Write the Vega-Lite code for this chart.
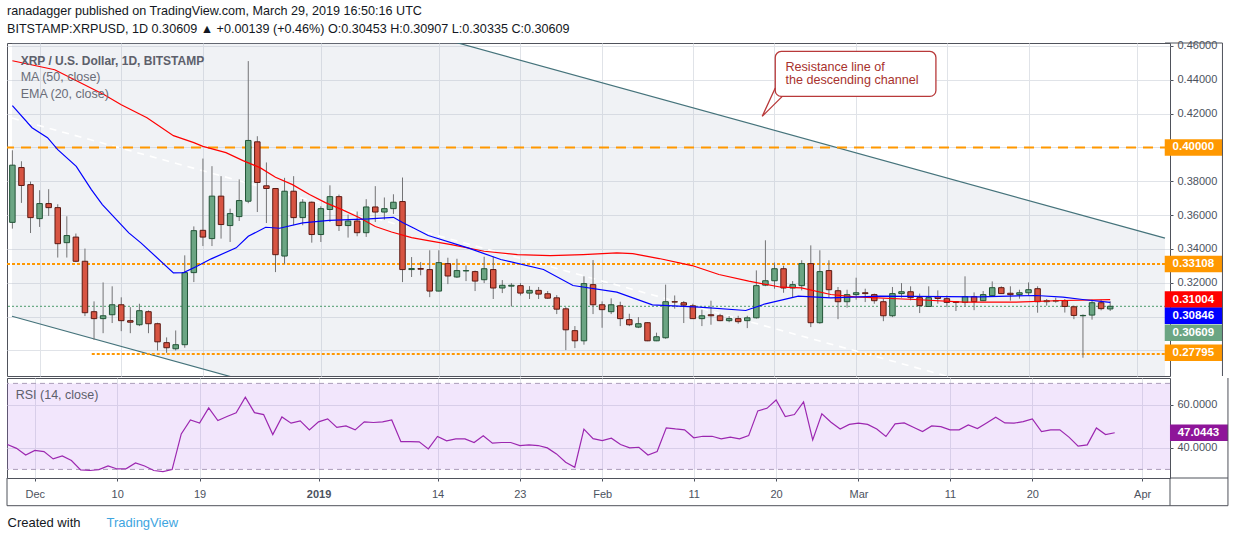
{
  "$schema": "https://vega.github.io/schema/vega-lite/v6.json",
  "background": "#ffffff",
  "padding": {"left": 4, "top": 5, "right": 0, "bottom": 0},
  "spacing": 0,
  "title": {
    "text": "ranadagger published on TradingView.com, March 29, 2019 16:50:16 UTC",
    "subtitle": "BITSTAMP:XRPUSD, 1D 0.30609 ▲ +0.00139 (+0.46%) O:0.30453 H:0.30907 L:0.30335 C:0.30609",
    "anchor": "start",
    "frame": "group",
    "offset": 4,
    "font": "Liberation Sans",
    "fontSize": 12.6,
    "fontWeight": "normal",
    "color": "#131722",
    "subtitleFont": "Liberation Sans",
    "subtitleFontSize": 12.6,
    "subtitleFontWeight": "normal",
    "subtitleColor": "#131722",
    "subtitlePadding": 5
  },
  "datasets": {
    "bars": [
      {"date": "2018-11-28", "o": 0.3557, "h": 0.3983, "l": 0.352, "c": 0.3895, "rsi": 41.6},
      {"date": "2018-11-29", "o": 0.3881, "h": 0.3918, "l": 0.3672, "c": 0.3775, "rsi": 39.8},
      {"date": "2018-11-30", "o": 0.378, "h": 0.3798, "l": 0.3494, "c": 0.3585, "rsi": 36.7},
      {"date": "2018-12-01", "o": 0.3579, "h": 0.3747, "l": 0.353, "c": 0.3668, "rsi": 38.8},
      {"date": "2018-12-02", "o": 0.3668, "h": 0.3753, "l": 0.3595, "c": 0.3644, "rsi": 38.3},
      {"date": "2018-12-03", "o": 0.3644, "h": 0.3664, "l": 0.3349, "c": 0.3431, "rsi": 34.9},
      {"date": "2018-12-04", "o": 0.3437, "h": 0.3593, "l": 0.3349, "c": 0.3479, "rsi": 36.3},
      {"date": "2018-12-05", "o": 0.347, "h": 0.3491, "l": 0.3322, "c": 0.3327, "rsi": 34.1},
      {"date": "2018-12-06", "o": 0.3327, "h": 0.3402, "l": 0.3003, "c": 0.3023, "rsi": 29.8},
      {"date": "2018-12-07", "o": 0.3029, "h": 0.309, "l": 0.2863, "c": 0.2988, "rsi": 29.5},
      {"date": "2018-12-08", "o": 0.2988, "h": 0.3202, "l": 0.2902, "c": 0.3005, "rsi": 29.9},
      {"date": "2018-12-09", "o": 0.3011, "h": 0.3179, "l": 0.2962, "c": 0.307, "rsi": 31.6},
      {"date": "2018-12-10", "o": 0.307, "h": 0.3114, "l": 0.2914, "c": 0.2976, "rsi": 30.2},
      {"date": "2018-12-11", "o": 0.2976, "h": 0.3056, "l": 0.2902, "c": 0.2967, "rsi": 30.4},
      {"date": "2018-12-12", "o": 0.2952, "h": 0.3076, "l": 0.2944, "c": 0.3035, "rsi": 33.0},
      {"date": "2018-12-13", "o": 0.3029, "h": 0.3037, "l": 0.2902, "c": 0.2958, "rsi": 31.6},
      {"date": "2018-12-14", "o": 0.2958, "h": 0.2964, "l": 0.28, "c": 0.2851, "rsi": 29.5},
      {"date": "2018-12-15", "o": 0.2846, "h": 0.2877, "l": 0.2786, "c": 0.2816, "rsi": 29.0},
      {"date": "2018-12-16", "o": 0.281, "h": 0.2918, "l": 0.28, "c": 0.2834, "rsi": 29.9},
      {"date": "2018-12-17", "o": 0.2834, "h": 0.3362, "l": 0.2816, "c": 0.326, "rsi": 46.5},
      {"date": "2018-12-18", "o": 0.326, "h": 0.3533, "l": 0.3204, "c": 0.3508, "rsi": 53.0},
      {"date": "2018-12-19", "o": 0.351, "h": 0.3934, "l": 0.3417, "c": 0.347, "rsi": 51.6},
      {"date": "2018-12-20", "o": 0.3461, "h": 0.3889, "l": 0.3417, "c": 0.3712, "rsi": 58.6},
      {"date": "2018-12-21", "o": 0.3712, "h": 0.383, "l": 0.3461, "c": 0.3544, "rsi": 52.7},
      {"date": "2018-12-22", "o": 0.3538, "h": 0.3638, "l": 0.3441, "c": 0.3609, "rsi": 54.6},
      {"date": "2018-12-23", "o": 0.3591, "h": 0.3811, "l": 0.3565, "c": 0.3686, "rsi": 56.3},
      {"date": "2018-12-24", "o": 0.3682, "h": 0.451, "l": 0.367, "c": 0.4041, "rsi": 63.6},
      {"date": "2018-12-25", "o": 0.4033, "h": 0.4066, "l": 0.3618, "c": 0.3793, "rsi": 56.4},
      {"date": "2018-12-26", "o": 0.3773, "h": 0.3911, "l": 0.3553, "c": 0.3757, "rsi": 55.5},
      {"date": "2018-12-27", "o": 0.3757, "h": 0.376, "l": 0.3263, "c": 0.3366, "rsi": 46.2},
      {"date": "2018-12-28", "o": 0.3358, "h": 0.382, "l": 0.3309, "c": 0.3741, "rsi": 54.4},
      {"date": "2018-12-29", "o": 0.3741, "h": 0.383, "l": 0.354, "c": 0.3585, "rsi": 51.5},
      {"date": "2018-12-30", "o": 0.3585, "h": 0.3694, "l": 0.354, "c": 0.3676, "rsi": 52.6},
      {"date": "2018-12-31", "o": 0.3676, "h": 0.368, "l": 0.3437, "c": 0.3485, "rsi": 48.4},
      {"date": "2019-01-01", "o": 0.3485, "h": 0.3652, "l": 0.3441, "c": 0.3638, "rsi": 52.1},
      {"date": "2019-01-02", "o": 0.3633, "h": 0.3776, "l": 0.3559, "c": 0.3709, "rsi": 53.5},
      {"date": "2019-01-03", "o": 0.3709, "h": 0.3721, "l": 0.3506, "c": 0.3538, "rsi": 49.5},
      {"date": "2019-01-04", "o": 0.3538, "h": 0.3603, "l": 0.3467, "c": 0.3565, "rsi": 50.2},
      {"date": "2019-01-05", "o": 0.3565, "h": 0.3621, "l": 0.3475, "c": 0.3496, "rsi": 48.4},
      {"date": "2019-01-06", "o": 0.3496, "h": 0.3694, "l": 0.3471, "c": 0.3648, "rsi": 52.1},
      {"date": "2019-01-07", "o": 0.3648, "h": 0.3771, "l": 0.3559, "c": 0.3618, "rsi": 51.8},
      {"date": "2019-01-08", "o": 0.3618, "h": 0.3704, "l": 0.3573, "c": 0.3638, "rsi": 52.1},
      {"date": "2019-01-09", "o": 0.3638, "h": 0.3723, "l": 0.3607, "c": 0.3676, "rsi": 53.0},
      {"date": "2019-01-10", "o": 0.368, "h": 0.3822, "l": 0.3204, "c": 0.3278, "rsi": 42.9},
      {"date": "2019-01-11", "o": 0.3278, "h": 0.3352, "l": 0.3234, "c": 0.3284, "rsi": 42.9},
      {"date": "2019-01-12", "o": 0.3284, "h": 0.3322, "l": 0.3244, "c": 0.328, "rsi": 42.8},
      {"date": "2019-01-13", "o": 0.3278, "h": 0.3392, "l": 0.3115, "c": 0.3151, "rsi": 39.5},
      {"date": "2019-01-14", "o": 0.3151, "h": 0.3392, "l": 0.3149, "c": 0.3319, "rsi": 45.3},
      {"date": "2019-01-15", "o": 0.3313, "h": 0.3348, "l": 0.3192, "c": 0.324, "rsi": 43.3},
      {"date": "2019-01-16", "o": 0.3234, "h": 0.3342, "l": 0.3228, "c": 0.3272, "rsi": 44.2},
      {"date": "2019-01-17", "o": 0.327, "h": 0.3303, "l": 0.321, "c": 0.3272, "rsi": 44.2},
      {"date": "2019-01-18", "o": 0.3266, "h": 0.3272, "l": 0.3151, "c": 0.321, "rsi": 42.5},
      {"date": "2019-01-19", "o": 0.3218, "h": 0.3354, "l": 0.3198, "c": 0.3283, "rsi": 45.6},
      {"date": "2019-01-20", "o": 0.3278, "h": 0.3354, "l": 0.3104, "c": 0.3169, "rsi": 42.2},
      {"date": "2019-01-21", "o": 0.3169, "h": 0.3216, "l": 0.3139, "c": 0.3185, "rsi": 42.5},
      {"date": "2019-01-22", "o": 0.318, "h": 0.3198, "l": 0.306, "c": 0.3185, "rsi": 42.5},
      {"date": "2019-01-23", "o": 0.3183, "h": 0.3198, "l": 0.3125, "c": 0.3139, "rsi": 41.1},
      {"date": "2019-01-24", "o": 0.3139, "h": 0.318, "l": 0.3104, "c": 0.3155, "rsi": 41.4},
      {"date": "2019-01-25", "o": 0.3155, "h": 0.3175, "l": 0.3104, "c": 0.3133, "rsi": 41.1},
      {"date": "2019-01-26", "o": 0.3135, "h": 0.3151, "l": 0.3105, "c": 0.3109, "rsi": 40.0},
      {"date": "2019-01-27", "o": 0.3111, "h": 0.3127, "l": 0.3015, "c": 0.3044, "rsi": 37.2},
      {"date": "2019-01-28", "o": 0.3046, "h": 0.3056, "l": 0.2802, "c": 0.2922, "rsi": 33.3},
      {"date": "2019-01-29", "o": 0.2917, "h": 0.2944, "l": 0.2814, "c": 0.2857, "rsi": 31.0},
      {"date": "2019-01-30", "o": 0.2857, "h": 0.3238, "l": 0.2834, "c": 0.3195, "rsi": 48.7},
      {"date": "2019-01-31", "o": 0.3189, "h": 0.3334, "l": 0.3015, "c": 0.307, "rsi": 44.3},
      {"date": "2019-02-01", "o": 0.307, "h": 0.309, "l": 0.2934, "c": 0.3041, "rsi": 43.4},
      {"date": "2019-02-02", "o": 0.3029, "h": 0.3108, "l": 0.3015, "c": 0.307, "rsi": 44.5},
      {"date": "2019-02-03", "o": 0.3064, "h": 0.3088, "l": 0.2944, "c": 0.2988, "rsi": 41.6},
      {"date": "2019-02-04", "o": 0.2982, "h": 0.3017, "l": 0.2944, "c": 0.2952, "rsi": 40.0},
      {"date": "2019-02-05", "o": 0.2938, "h": 0.2997, "l": 0.2932, "c": 0.2958, "rsi": 40.3},
      {"date": "2019-02-06", "o": 0.2964, "h": 0.2967, "l": 0.2855, "c": 0.2857, "rsi": 36.7},
      {"date": "2019-02-07", "o": 0.2857, "h": 0.2905, "l": 0.2855, "c": 0.2881, "rsi": 38.3},
      {"date": "2019-02-08", "o": 0.2875, "h": 0.3189, "l": 0.2869, "c": 0.3088, "rsi": 49.3},
      {"date": "2019-02-09", "o": 0.3088, "h": 0.3125, "l": 0.3047, "c": 0.3086, "rsi": 48.8},
      {"date": "2019-02-10", "o": 0.3082, "h": 0.3092, "l": 0.2962, "c": 0.3068, "rsi": 48.4},
      {"date": "2019-02-11", "o": 0.3064, "h": 0.3076, "l": 0.2986, "c": 0.2988, "rsi": 44.7},
      {"date": "2019-02-12", "o": 0.2988, "h": 0.3041, "l": 0.2944, "c": 0.3005, "rsi": 45.4},
      {"date": "2019-02-13", "o": 0.3011, "h": 0.3094, "l": 0.2952, "c": 0.3005, "rsi": 45.4},
      {"date": "2019-02-14", "o": 0.3005, "h": 0.3017, "l": 0.2973, "c": 0.2976, "rsi": 44.2},
      {"date": "2019-02-15", "o": 0.2976, "h": 0.3003, "l": 0.2967, "c": 0.2988, "rsi": 45.0},
      {"date": "2019-02-16", "o": 0.2988, "h": 0.3005, "l": 0.2958, "c": 0.297, "rsi": 44.2},
      {"date": "2019-02-17", "o": 0.2976, "h": 0.3005, "l": 0.2932, "c": 0.2993, "rsi": 45.7},
      {"date": "2019-02-18", "o": 0.2993, "h": 0.3273, "l": 0.2988, "c": 0.3183, "rsi": 57.2},
      {"date": "2019-02-19", "o": 0.3186, "h": 0.3451, "l": 0.318, "c": 0.3212, "rsi": 58.4},
      {"date": "2019-02-20", "o": 0.3212, "h": 0.3319, "l": 0.3165, "c": 0.3283, "rsi": 62.3},
      {"date": "2019-02-21", "o": 0.3283, "h": 0.3301, "l": 0.3141, "c": 0.3169, "rsi": 54.6},
      {"date": "2019-02-22", "o": 0.3169, "h": 0.321, "l": 0.3115, "c": 0.3189, "rsi": 55.5},
      {"date": "2019-02-23", "o": 0.3183, "h": 0.3333, "l": 0.3155, "c": 0.3313, "rsi": 61.4},
      {"date": "2019-02-24", "o": 0.3313, "h": 0.3421, "l": 0.2938, "c": 0.2964, "rsi": 43.7},
      {"date": "2019-02-25", "o": 0.2964, "h": 0.3392, "l": 0.2958, "c": 0.3266, "rsi": 55.8},
      {"date": "2019-02-26", "o": 0.3272, "h": 0.3333, "l": 0.3112, "c": 0.3159, "rsi": 51.9},
      {"date": "2019-02-27", "o": 0.3153, "h": 0.3175, "l": 0.2985, "c": 0.3088, "rsi": 48.8},
      {"date": "2019-02-28", "o": 0.3088, "h": 0.3159, "l": 0.3053, "c": 0.313, "rsi": 50.9},
      {"date": "2019-03-01", "o": 0.313, "h": 0.323, "l": 0.31, "c": 0.3141, "rsi": 51.5},
      {"date": "2019-03-02", "o": 0.3141, "h": 0.3165, "l": 0.3086, "c": 0.3136, "rsi": 50.9},
      {"date": "2019-03-03", "o": 0.313, "h": 0.3136, "l": 0.3076, "c": 0.3094, "rsi": 48.8},
      {"date": "2019-03-04", "o": 0.3088, "h": 0.3106, "l": 0.2973, "c": 0.3005, "rsi": 45.3},
      {"date": "2019-03-05", "o": 0.3005, "h": 0.3175, "l": 0.2997, "c": 0.3136, "rsi": 51.2},
      {"date": "2019-03-06", "o": 0.3136, "h": 0.3198, "l": 0.3112, "c": 0.3147, "rsi": 51.6},
      {"date": "2019-03-07", "o": 0.3147, "h": 0.3179, "l": 0.3096, "c": 0.3112, "rsi": 49.6},
      {"date": "2019-03-08", "o": 0.3112, "h": 0.3136, "l": 0.3021, "c": 0.3065, "rsi": 47.6},
      {"date": "2019-03-09", "o": 0.306, "h": 0.3179, "l": 0.3058, "c": 0.3112, "rsi": 50.2},
      {"date": "2019-03-10", "o": 0.3118, "h": 0.3155, "l": 0.3076, "c": 0.3107, "rsi": 49.9},
      {"date": "2019-03-11", "o": 0.3106, "h": 0.3125, "l": 0.3056, "c": 0.3084, "rsi": 48.4},
      {"date": "2019-03-12", "o": 0.3088, "h": 0.309, "l": 0.3033, "c": 0.3084, "rsi": 48.4},
      {"date": "2019-03-13", "o": 0.3084, "h": 0.3238, "l": 0.3058, "c": 0.3118, "rsi": 50.7},
      {"date": "2019-03-14", "o": 0.3118, "h": 0.3143, "l": 0.3038, "c": 0.3088, "rsi": 49.0},
      {"date": "2019-03-15", "o": 0.3094, "h": 0.3151, "l": 0.3092, "c": 0.313, "rsi": 51.6},
      {"date": "2019-03-16", "o": 0.3124, "h": 0.3208, "l": 0.312, "c": 0.3171, "rsi": 54.3},
      {"date": "2019-03-17", "o": 0.3171, "h": 0.3179, "l": 0.3134, "c": 0.3136, "rsi": 51.6},
      {"date": "2019-03-18", "o": 0.3138, "h": 0.3179, "l": 0.3094, "c": 0.313, "rsi": 51.5},
      {"date": "2019-03-19", "o": 0.313, "h": 0.3159, "l": 0.3106, "c": 0.3141, "rsi": 52.2},
      {"date": "2019-03-20", "o": 0.3141, "h": 0.3202, "l": 0.3124, "c": 0.3159, "rsi": 53.5},
      {"date": "2019-03-21", "o": 0.3165, "h": 0.3179, "l": 0.3023, "c": 0.3088, "rsi": 47.6},
      {"date": "2019-03-22", "o": 0.3088, "h": 0.3104, "l": 0.3065, "c": 0.3094, "rsi": 48.4},
      {"date": "2019-03-23", "o": 0.3092, "h": 0.3112, "l": 0.3082, "c": 0.3094, "rsi": 48.4},
      {"date": "2019-03-24", "o": 0.3094, "h": 0.3104, "l": 0.3024, "c": 0.306, "rsi": 45.0},
      {"date": "2019-03-25", "o": 0.3058, "h": 0.3065, "l": 0.2985, "c": 0.3007, "rsi": 40.8},
      {"date": "2019-03-26", "o": 0.3005, "h": 0.3013, "l": 0.2757, "c": 0.3007, "rsi": 41.4},
      {"date": "2019-03-27", "o": 0.3009, "h": 0.31, "l": 0.2982, "c": 0.3082, "rsi": 49.3},
      {"date": "2019-03-28", "o": 0.3082, "h": 0.31, "l": 0.3037, "c": 0.3047, "rsi": 46.2},
      {"date": "2019-03-29", "o": 0.30453, "h": 0.30907, "l": 0.30335, "c": 0.30609, "rsi": 47.0443}
    ],
    "ma": [
      {"date": "2018-11-28T00:00:00Z", "v": 0.45122},
      {"date": "2018-12-02T16:00:00Z", "v": 0.4459},
      {"date": "2018-12-08T03:00:00Z", "v": 0.43114},
      {"date": "2018-12-10T00:00:00Z", "v": 0.42524},
      {"date": "2018-12-12T20:00:00Z", "v": 0.41757},
      {"date": "2018-12-15T18:00:00Z", "v": 0.40694},
      {"date": "2018-12-18T00:00:00Z", "v": 0.40281},
      {"date": "2018-12-19T00:00:00Z", "v": 0.40062},
      {"date": "2018-12-21T13:00:00Z", "v": 0.3969},
      {"date": "2018-12-23T10:00:00Z", "v": 0.39218},
      {"date": "2018-12-25T07:00:00Z", "v": 0.38805},
      {"date": "2018-12-27T00:00:00Z", "v": 0.38232},
      {"date": "2018-12-28T21:00:00Z", "v": 0.37801},
      {"date": "2018-12-30T18:00:00Z", "v": 0.37211},
      {"date": "2019-01-01T12:00:00Z", "v": 0.36738},
      {"date": "2019-01-03T08:00:00Z", "v": 0.36325},
      {"date": "2019-01-05T05:00:00Z", "v": 0.35853},
      {"date": "2019-01-07T00:00:00Z", "v": 0.35321},
      {"date": "2019-01-08T19:00:00Z", "v": 0.35},
      {"date": "2019-01-11T00:00:00Z", "v": 0.34672},
      {"date": "2019-01-12T20:00:00Z", "v": 0.34494},
      {"date": "2019-01-15T09:00:00Z", "v": 0.34258},
      {"date": "2019-01-19T00:00:00Z", "v": 0.33863},
      {"date": "2019-01-22T16:00:00Z", "v": 0.33668},
      {"date": "2019-01-26T07:00:00Z", "v": 0.33609},
      {"date": "2019-01-29T22:00:00Z", "v": 0.33668},
      {"date": "2019-02-02T15:00:00Z", "v": 0.33768},
      {"date": "2019-02-04T09:00:00Z", "v": 0.33727},
      {"date": "2019-02-07T07:00:00Z", "v": 0.33432},
      {"date": "2019-02-10T22:00:00Z", "v": 0.33018},
      {"date": "2019-02-13T21:00:00Z", "v": 0.32487},
      {"date": "2019-02-17T04:00:00Z", "v": 0.32092},
      {"date": "2019-02-20T18:00:00Z", "v": 0.31737},
      {"date": "2019-02-22T23:00:00Z", "v": 0.31702},
      {"date": "2019-02-26T05:00:00Z", "v": 0.31306},
      {"date": "2019-02-28T20:00:00Z", "v": 0.3117},
      {"date": "2019-03-07T10:00:00Z", "v": 0.31011},
      {"date": "2019-03-12T21:00:00Z", "v": 0.30852},
      {"date": "2019-03-18T08:00:00Z", "v": 0.30852},
      {"date": "2019-03-23T19:00:00Z", "v": 0.30952},
      {"date": "2019-03-29T00:00:00Z", "v": 0.31004}
    ],
    "ema": [
      {"date": "2018-11-28T00:00:00Z", "v": 0.42465},
      {"date": "2018-11-30T04:00:00Z", "v": 0.41166},
      {"date": "2018-12-01T21:00:00Z", "v": 0.40576},
      {"date": "2018-12-03T00:00:00Z", "v": 0.39867},
      {"date": "2018-12-05T01:00:00Z", "v": 0.38881},
      {"date": "2018-12-06T17:00:00Z", "v": 0.37506},
      {"date": "2018-12-07T22:00:00Z", "v": 0.3662},
      {"date": "2018-12-10T20:00:00Z", "v": 0.34949},
      {"date": "2018-12-12T04:00:00Z", "v": 0.34359},
      {"date": "2018-12-15T18:00:00Z", "v": 0.32587},
      {"date": "2018-12-16T21:00:00Z", "v": 0.32605},
      {"date": "2018-12-18T07:00:00Z", "v": 0.3296},
      {"date": "2018-12-19T22:00:00Z", "v": 0.33414},
      {"date": "2018-12-22T16:00:00Z", "v": 0.34064},
      {"date": "2018-12-24T00:00:00Z", "v": 0.34748},
      {"date": "2018-12-25T22:00:00Z", "v": 0.3528},
      {"date": "2018-12-27T11:00:00Z", "v": 0.35221},
      {"date": "2018-12-30T00:00:00Z", "v": 0.3554},
      {"date": "2019-01-01T22:00:00Z", "v": 0.35693},
      {"date": "2019-01-06T07:00:00Z", "v": 0.35776},
      {"date": "2019-01-09T00:00:00Z", "v": 0.3587},
      {"date": "2019-01-10T00:00:00Z", "v": 0.3556},
      {"date": "2019-01-11T00:00:00Z", "v": 0.353},
      {"date": "2019-01-12T20:00:00Z", "v": 0.3479},
      {"date": "2019-01-17T05:00:00Z", "v": 0.34064},
      {"date": "2019-01-20T20:00:00Z", "v": 0.33373},
      {"date": "2019-01-25T13:00:00Z", "v": 0.32782},
      {"date": "2019-01-28T19:00:00Z", "v": 0.31838},
      {"date": "2019-02-02T15:00:00Z", "v": 0.31442},
      {"date": "2019-02-06T13:00:00Z", "v": 0.30698},
      {"date": "2019-02-11T17:00:00Z", "v": 0.30556},
      {"date": "2019-02-16T20:00:00Z", "v": 0.30362},
      {"date": "2019-02-19T00:00:00Z", "v": 0.30757},
      {"date": "2019-02-22T15:00:00Z", "v": 0.31206},
      {"date": "2019-02-26T05:00:00Z", "v": 0.31111},
      {"date": "2019-03-03T16:00:00Z", "v": 0.31206},
      {"date": "2019-03-14T14:00:00Z", "v": 0.3117},
      {"date": "2019-03-20T20:00:00Z", "v": 0.31247},
      {"date": "2019-03-23T19:00:00Z", "v": 0.31147},
      {"date": "2019-03-25T23:00:00Z", "v": 0.31011},
      {"date": "2019-03-29T00:00:00Z", "v": 0.30846}
    ],
    "channel": [
      {"date": "2018-11-27T23:00:00Z", "up": 0.53446, "lo": 0.30019, "mid": 0.41733},
      {"date": "2019-04-04T01:00:00Z", "up": 0.34636, "lo": 0.11209, "mid": 0.22923}
    ],
    "tags": [
      {"v": "0.40000", "p": 0.4, "k": "level"},
      {"v": "0.33108", "p": 0.33108, "k": "level"},
      {"v": "0.31004", "p": 0.31004, "k": "ma"},
      {"v": "0.30846", "p": 0.30055, "k": "ema"},
      {"v": "0.30609", "p": 0.29045, "k": "close"},
      {"v": "0.27795", "p": 0.27864, "k": "level"}
    ],
    "tail": [
      {"date": "2019-02-20T02:00:00Z", "p": 0.4351, "i": 1},
      {"date": "2019-02-18T15:30:00Z", "p": 0.41833, "i": 2},
      {"date": "2019-02-20T20:40:00Z", "p": 0.43014, "i": 3}
    ],
    "callout": [
      {"date": "2019-02-21T05:00:00Z", "p": 0.44726, "t": "Resistance line of"},
      {"date": "2019-02-21T05:00:00Z", "p": 0.44, "t": "the descending channel"}
    ]
  },
  "vconcat": [
    {
      "width": 1163,
      "height": 333,
      "layer": [
        {
          "data": {"name": "channel"},
          "mark": {"type": "area", "clip": true, "color": "#b4bfcc", "opacity": 0.2},
          "encoding": {
            "x": {"field": "date", "type": "temporal",
              "scale": {"type": "utc", "domain": [{"year": 2018, "month": 11, "date": 27, "hours": 23, "utc": true}, {"year": 2019, "month": 4, "date": 4, "hours": 1, "utc": true}]},
              "axis": {"values": [
                {"year": 2018, "month": 12, "date": 1, "utc": true}, {"year": 2018, "month": 12, "date": 10, "utc": true}, {"year": 2018, "month": 12, "date": 19, "utc": true},
                {"year": 2019, "month": 1, "date": 1, "utc": true}, {"year": 2019, "month": 1, "date": 14, "utc": true}, {"year": 2019, "month": 1, "date": 23, "utc": true},
                {"year": 2019, "month": 2, "date": 1, "utc": true}, {"year": 2019, "month": 2, "date": 11, "utc": true}, {"year": 2019, "month": 2, "date": 20, "utc": true},
                {"year": 2019, "month": 3, "date": 1, "utc": true}, {"year": 2019, "month": 3, "date": 11, "utc": true}, {"year": 2019, "month": 3, "date": 20, "utc": true},
                {"year": 2019, "month": 4, "date": 1, "utc": true}],
                "grid": true, "labels": false, "ticks": false, "domain": false, "title": null}},
            "y": {"field": "up", "type": "quantitative",
              "scale": {"domain": [0.2649, 0.4617], "zero": false, "nice": false},
              "axis": {"orient": "right", "values": [0.28, 0.3, 0.32, 0.34, 0.36, 0.38, 0.4, 0.42, 0.44, 0.46], "tickCount": 10, "format": ".5f",
                "labelExpr": "(abs(datum.value - 0.4) < 0.001 || abs(datum.value - 0.3) < 0.001 || abs(datum.value - 0.28) < 0.001) ? '' : datum.label",
                "grid": true, "tickSize": 3, "labelPadding": 4, "labelOverlap": false, "labelSeparation": 0, "labelBound": false, "title": null}},
            "y2": {"field": "lo"}
          }
        },
        {
          "data": {"name": "channel"},
          "mark": {"type": "line", "clip": true, "color": "#ffffff", "strokeWidth": 1.6, "strokeDash": [7, 6]},
          "encoding": {
            "x": {"field": "date", "type": "temporal", "scale": {"type": "utc", "domain": [{"year": 2018, "month": 11, "date": 27, "hours": 23, "utc": true}, {"year": 2019, "month": 4, "date": 4, "hours": 1, "utc": true}]}},
            "y": {"field": "mid", "type": "quantitative", "scale": {"domain": [0.2649, 0.4617], "zero": false, "nice": false}}
          }
        },
        {
          "data": {"name": "channel"},
          "mark": {"type": "line", "clip": true, "color": "#45737b", "strokeWidth": 1.2},
          "encoding": {
            "x": {"field": "date", "type": "temporal", "scale": {"type": "utc", "domain": [{"year": 2018, "month": 11, "date": 27, "hours": 23, "utc": true}, {"year": 2019, "month": 4, "date": 4, "hours": 1, "utc": true}]}},
            "y": {"field": "up", "type": "quantitative", "scale": {"domain": [0.2649, 0.4617], "zero": false, "nice": false}}
          }
        },
        {
          "data": {"name": "channel"},
          "mark": {"type": "line", "clip": true, "color": "#45737b", "strokeWidth": 1.2},
          "encoding": {
            "x": {"field": "date", "type": "temporal", "scale": {"type": "utc", "domain": [{"year": 2018, "month": 11, "date": 27, "hours": 23, "utc": true}, {"year": 2019, "month": 4, "date": 4, "hours": 1, "utc": true}]}},
            "y": {"field": "lo", "type": "quantitative", "scale": {"domain": [0.2649, 0.4617], "zero": false, "nice": false}}
          }
        },
        {
          "data": {"values": [{}]},
          "mark": {"type": "rule", "color": "#ff9800", "strokeWidth": 2, "strokeDash": [10, 7]},
          "encoding": {
            "y": {"datum": 0.4, "type": "quantitative", "scale": {"domain": [0.2649, 0.4617], "zero": false, "nice": false}}
          }
        },
        {
          "data": {"values": [{}]},
          "mark": {"type": "rule", "color": "#ff9800", "strokeWidth": 2, "strokeDash": [3, 2]},
          "encoding": {
            "y": {"datum": 0.33108, "type": "quantitative", "scale": {"domain": [0.2649, 0.4617], "zero": false, "nice": false}}
          }
        },
        {
          "data": {"values": [{}]},
          "mark": {"type": "rule", "color": "#ff9800", "strokeWidth": 2, "strokeDash": [3, 2]},
          "encoding": {
            "x": {"datum": {"year": 2018, "month": 12, "date": 6, "hours": 18, "utc": true}, "type": "temporal", "scale": {"type": "utc", "domain": [{"year": 2018, "month": 11, "date": 27, "hours": 23, "utc": true}, {"year": 2019, "month": 4, "date": 4, "hours": 1, "utc": true}]}},
            "x2": {"datum": {"year": 2019, "month": 4, "date": 4, "hours": 1, "utc": true}},
            "y": {"datum": 0.27795, "type": "quantitative", "scale": {"domain": [0.2649, 0.4617], "zero": false, "nice": false}}
          }
        },
        {
          "data": {"values": [{}]},
          "mark": {"type": "rule", "color": "#4c9a6c", "strokeWidth": 1, "strokeDash": [2, 2]},
          "encoding": {
            "y": {"datum": 0.30609, "type": "quantitative", "scale": {"domain": [0.2649, 0.4617], "zero": false, "nice": false}}
          }
        },
        {
          "data": {"name": "bars"},
          "mark": {"type": "rule", "clip": true, "color": "#737375", "strokeWidth": 1},
          "encoding": {
            "x": {"field": "date", "type": "temporal", "scale": {"type": "utc", "domain": [{"year": 2018, "month": 11, "date": 27, "hours": 23, "utc": true}, {"year": 2019, "month": 4, "date": 4, "hours": 1, "utc": true}]}},
            "y": {"field": "l", "type": "quantitative", "scale": {"domain": [0.2649, 0.4617], "zero": false, "nice": false},
              "axis": {"orient": "right", "values": [0.28, 0.3, 0.32, 0.34, 0.36, 0.38, 0.4, 0.42, 0.44, 0.46], "tickCount": 10, "format": ".5f",
                "labelExpr": "(abs(datum.value - 0.4) < 0.001 || abs(datum.value - 0.3) < 0.001 || abs(datum.value - 0.28) < 0.001) ? '' : datum.label",
                "grid": true, "tickSize": 3, "labelPadding": 4, "labelOverlap": false, "labelSeparation": 0, "labelBound": false, "title": null}},
            "y2": {"field": "h"}
          }
        },
        {
          "data": {"name": "bars"},
          "mark": {"type": "bar", "clip": true, "width": 5.5, "strokeWidth": 1},
          "encoding": {
            "x": {"field": "date", "type": "temporal", "scale": {"type": "utc", "domain": [{"year": 2018, "month": 11, "date": 27, "hours": 23, "utc": true}, {"year": 2019, "month": 4, "date": 4, "hours": 1, "utc": true}]}},
            "y": {"field": "o", "type": "quantitative", "scale": {"domain": [0.2649, 0.4617], "zero": false, "nice": false}},
            "y2": {"field": "c"},
            "color": {"condition": {"test": "datum.c >= datum.o", "value": "#6ba583"}, "value": "#d75442"},
            "stroke": {"condition": {"test": "datum.c >= datum.o", "value": "#225437"}, "value": "#5b1a13"}
          }
        },
        {
          "data": {"name": "ma"},
          "mark": {"type": "line", "clip": true, "color": "#ff0000", "strokeWidth": 1.2},
          "encoding": {
            "x": {"field": "date", "type": "temporal", "scale": {"type": "utc", "domain": [{"year": 2018, "month": 11, "date": 27, "hours": 23, "utc": true}, {"year": 2019, "month": 4, "date": 4, "hours": 1, "utc": true}]}},
            "y": {"field": "v", "type": "quantitative", "scale": {"domain": [0.2649, 0.4617], "zero": false, "nice": false}}
          }
        },
        {
          "data": {"name": "ema"},
          "mark": {"type": "line", "clip": true, "color": "#0000ff", "strokeWidth": 1.2},
          "encoding": {
            "x": {"field": "date", "type": "temporal", "scale": {"type": "utc", "domain": [{"year": 2018, "month": 11, "date": 27, "hours": 23, "utc": true}, {"year": 2019, "month": 4, "date": 4, "hours": 1, "utc": true}]}},
            "y": {"field": "v", "type": "quantitative", "scale": {"domain": [0.2649, 0.4617], "zero": false, "nice": false}}
          }
        },
        {
          "data": {"values": [{}]},
          "mark": {"type": "rect", "fill": "#ffffff", "stroke": "#b8393a", "strokeWidth": 1.3, "cornerRadius": 6},
          "encoding": {
            "x": {"datum": {"year": 2019, "month": 2, "date": 20, "hours": 2, "utc": true}, "type": "temporal", "scale": {"type": "utc", "domain": [{"year": 2018, "month": 11, "date": 27, "hours": 23, "utc": true}, {"year": 2019, "month": 4, "date": 4, "hours": 1, "utc": true}]}},
            "x2": {"datum": {"year": 2019, "month": 3, "date": 9, "hours": 19, "utc": true}},
            "y": {"datum": 0.45671, "type": "quantitative", "scale": {"domain": [0.2649, 0.4617], "zero": false, "nice": false}},
            "y2": {"datum": 0.43014}
          }
        },
        {
          "data": {"name": "tail"},
          "mark": {"type": "line", "color": "#b8393a", "strokeWidth": 1.3},
          "encoding": {
            "x": {"field": "date", "type": "temporal", "scale": {"type": "utc", "domain": [{"year": 2018, "month": 11, "date": 27, "hours": 23, "utc": true}, {"year": 2019, "month": 4, "date": 4, "hours": 1, "utc": true}]}},
            "y": {"field": "p", "type": "quantitative", "scale": {"domain": [0.2649, 0.4617], "zero": false, "nice": false}},
            "order": {"field": "i"}
          }
        },
        {
          "data": {"name": "callout"},
          "mark": {"type": "text", "align": "left", "baseline": "middle", "fontSize": 12.6, "color": "#a8322d", "font": "Liberation Sans"},
          "encoding": {
            "x": {"field": "date", "type": "temporal", "scale": {"type": "utc", "domain": [{"year": 2018, "month": 11, "date": 27, "hours": 23, "utc": true}, {"year": 2019, "month": 4, "date": 4, "hours": 1, "utc": true}]}},
            "y": {"field": "p", "type": "quantitative", "scale": {"domain": [0.2649, 0.4617], "zero": false, "nice": false}},
            "text": {"field": "t"}
          }
        },
        {
          "data": {"values": [{"date": "2018-11-28T21:50:00Z", "p": 0.45122, "t": "XRP / U.S. Dollar, 1D, BITSTAMP"}]},
          "mark": {"type": "text", "align": "left", "baseline": "middle", "fontSize": 12, "fontWeight": "bold", "color": "#5d606b"},
          "encoding": {
            "x": {"field": "date", "type": "temporal", "scale": {"type": "utc", "domain": [{"year": 2018, "month": 11, "date": 27, "hours": 23, "utc": true}, {"year": 2019, "month": 4, "date": 4, "hours": 1, "utc": true}]}},
            "y": {"field": "p", "type": "quantitative", "scale": {"domain": [0.2649, 0.4617], "zero": false, "nice": false}},
            "text": {"field": "t"}
          }
        },
        {
          "data": {"values": [{"date": "2018-11-28T21:50:00Z", "p": 0.44136, "t": "MA (50, close)"}, {"date": "2018-11-28T21:50:00Z", "p": 0.43156, "t": "EMA (20, close)"}]},
          "mark": {"type": "text", "align": "left", "baseline": "middle", "fontSize": 12.5, "color": "#6a6d78"},
          "encoding": {
            "x": {"field": "date", "type": "temporal", "scale": {"type": "utc", "domain": [{"year": 2018, "month": 11, "date": 27, "hours": 23, "utc": true}, {"year": 2019, "month": 4, "date": 4, "hours": 1, "utc": true}]}},
            "y": {"field": "p", "type": "quantitative", "scale": {"domain": [0.2649, 0.4617], "zero": false, "nice": false}},
            "text": {"field": "t"}
          }
        },
        {
          "data": {"name": "tags"},
          "mark": {"type": "tick", "orient": "horizontal", "size": 58, "thickness": 16.5, "opacity": 1},
          "encoding": {
            "x": {"datum": {"year": 2019, "month": 4, "date": 7, "hours": 5, "utc": true}, "type": "temporal", "scale": {"type": "utc", "domain": [{"year": 2018, "month": 11, "date": 27, "hours": 23, "utc": true}, {"year": 2019, "month": 4, "date": 4, "hours": 1, "utc": true}]}},
            "y": {"field": "p", "type": "quantitative", "scale": {"domain": [0.2649, 0.4617], "zero": false, "nice": false}},
            "color": {"field": "k", "type": "nominal", "scale": {"domain": ["level", "ma", "ema", "close"], "range": ["#ff9800", "#ff0000", "#0000ff", "#6ba583"]}, "legend": null}
          }
        },
        {
          "data": {"name": "tags"},
          "mark": {"type": "text", "align": "left", "baseline": "middle", "fontSize": 11.5, "fontWeight": "bold", "color": "#ffffff"},
          "encoding": {
            "x": {"datum": {"year": 2019, "month": 4, "date": 4, "hours": 21, "utc": true}, "type": "temporal", "scale": {"type": "utc", "domain": [{"year": 2018, "month": 11, "date": 27, "hours": 23, "utc": true}, {"year": 2019, "month": 4, "date": 4, "hours": 1, "utc": true}]}},
            "y": {"field": "p", "type": "quantitative", "scale": {"domain": [0.2649, 0.4617], "zero": false, "nice": false}},
            "text": {"field": "v"}
          }
        },
        {
          "data": {"values": [{}]},
          "mark": {"type": "rule", "color": "#4f525b", "strokeWidth": 1},
          "encoding": {
            "x": {"datum": {"year": 2019, "month": 4, "date": 10, "hours": 9, "utc": true}, "type": "temporal", "scale": {"type": "utc", "domain": [{"year": 2018, "month": 11, "date": 27, "hours": 23, "utc": true}, {"year": 2019, "month": 4, "date": 4, "hours": 1, "utc": true}]}}
          }
        },
        {
          "data": {"values": [{}]},
          "mark": {"type": "rule", "color": "#4f525b", "strokeWidth": 1},
          "encoding": {
            "x": {"datum": {"year": 2019, "month": 4, "date": 4, "hours": 1, "utc": true}, "type": "temporal", "scale": {"type": "utc", "domain": [{"year": 2018, "month": 11, "date": 27, "hours": 23, "utc": true}, {"year": 2019, "month": 4, "date": 4, "hours": 1, "utc": true}]}},
            "x2": {"datum": {"year": 2019, "month": 4, "date": 10, "hours": 9, "utc": true}},
            "y": {"datum": 0.4617, "type": "quantitative", "scale": {"domain": [0.2649, 0.4617], "zero": false, "nice": false}}
          }
        }
      ]
    },
    {
      "width": 1163,
      "height": 100,
      "layer": [
        {
          "data": {"values": [{}]},
          "mark": {"type": "rect", "color": "#b36bf0", "opacity": 0.17},
          "encoding": {
            "x": {"datum": {"year": 2018, "month": 11, "date": 27, "hours": 23, "utc": true}, "type": "temporal", "scale": {"type": "utc", "domain": [{"year": 2018, "month": 11, "date": 27, "hours": 23, "utc": true}, {"year": 2019, "month": 4, "date": 4, "hours": 1, "utc": true}]}},
            "x2": {"datum": {"year": 2019, "month": 4, "date": 4, "hours": 1, "utc": true}},
            "y": {"datum": 70, "type": "quantitative", "scale": {"domain": [26, 72.5], "zero": false, "nice": false}},
            "y2": {"datum": 30}
          }
        },
        {
          "data": {"values": [{}]},
          "mark": {"type": "rule", "color": "#aa9cb9", "strokeWidth": 1, "strokeDash": [5, 4]},
          "encoding": {
            "y": {"datum": 70, "type": "quantitative", "scale": {"domain": [26, 72.5], "zero": false, "nice": false}}
          }
        },
        {
          "data": {"values": [{}]},
          "mark": {"type": "rule", "color": "#aa9cb9", "strokeWidth": 1, "strokeDash": [5, 4]},
          "encoding": {
            "y": {"datum": 30, "type": "quantitative", "scale": {"domain": [26, 72.5], "zero": false, "nice": false}}
          }
        },
        {
          "data": {"name": "bars"},
          "mark": {"type": "line", "color": "#9c27b0", "strokeWidth": 1.2},
          "encoding": {
            "x": {"field": "date", "type": "temporal",
              "scale": {"type": "utc", "domain": [{"year": 2018, "month": 11, "date": 27, "hours": 23, "utc": true}, {"year": 2019, "month": 4, "date": 4, "hours": 1, "utc": true}]},
              "axis": {"values": [
                {"year": 2018, "month": 12, "date": 1, "utc": true}, {"year": 2018, "month": 12, "date": 10, "utc": true}, {"year": 2018, "month": 12, "date": 19, "utc": true},
                {"year": 2019, "month": 1, "date": 1, "utc": true}, {"year": 2019, "month": 1, "date": 14, "utc": true}, {"year": 2019, "month": 1, "date": 23, "utc": true},
                {"year": 2019, "month": 2, "date": 1, "utc": true}, {"year": 2019, "month": 2, "date": 11, "utc": true}, {"year": 2019, "month": 2, "date": 20, "utc": true},
                {"year": 2019, "month": 3, "date": 1, "utc": true}, {"year": 2019, "month": 3, "date": 11, "utc": true}, {"year": 2019, "month": 3, "date": 20, "utc": true},
                {"year": 2019, "month": 4, "date": 1, "utc": true}],
                "grid": true, "domain": false, "tickSize": 3, "labelPadding": 7, "labelOverlap": false,
                "labelExpr": "utcdate(datum.value) == 1 ? (utcmonth(datum.value) == 0 ? utcFormat(datum.value, '%Y') : utcFormat(datum.value, '%b')) : utcFormat(datum.value, '%-d')",
                "labelFontWeight": {"condition": {"test": "utcmonth(datum.value) == 0 && utcdate(datum.value) == 1", "value": "bold"}, "value": "normal"},
                "title": "Created with", "titleAnchor": "start", "titleAlign": "left", "titleBaseline": "middle", "titleX": 0, "titleY": 44,
                "titleFontSize": 13, "titleFontWeight": "normal", "titleColor": "#131722"}},
            "y": {"field": "rsi", "type": "quantitative",
              "scale": {"domain": [26, 72.5], "zero": false, "nice": false},
              "axis": {"orient": "right", "values": [40, 60], "format": ".4f", "grid": true, "tickSize": 3, "labelPadding": 4, "labelOverlap": false,
                "title": "TradingView", "titleAngle": 0, "titleX": -1064, "titleY": 144, "titleAlign": "left", "titleBaseline": "middle",
                "titleFontSize": 13, "titleFontWeight": "normal", "titleColor": "#3ea5df"}}
          }
        },
        {
          "data": {"values": [{"date": "2018-11-28T21:50:00Z", "p": 64.8, "t": "RSI (14, close)"}]},
          "mark": {"type": "text", "align": "left", "baseline": "middle", "fontSize": 12.5, "color": "#5d606b"},
          "encoding": {
            "x": {"field": "date", "type": "temporal", "scale": {"type": "utc", "domain": [{"year": 2018, "month": 11, "date": 27, "hours": 23, "utc": true}, {"year": 2019, "month": 4, "date": 4, "hours": 1, "utc": true}]}},
            "y": {"field": "p", "type": "quantitative", "scale": {"domain": [26, 72.5], "zero": false, "nice": false}},
            "text": {"field": "t"}
          }
        },
        {
          "data": {"values": [{"v": "47.0443", "p": 47.0443}]},
          "mark": {"type": "tick", "orient": "horizontal", "size": 58, "thickness": 16.5, "opacity": 1, "color": "#8e1599"},
          "encoding": {
            "x": {"datum": {"year": 2019, "month": 4, "date": 7, "hours": 5, "utc": true}, "type": "temporal", "scale": {"type": "utc", "domain": [{"year": 2018, "month": 11, "date": 27, "hours": 23, "utc": true}, {"year": 2019, "month": 4, "date": 4, "hours": 1, "utc": true}]}},
            "y": {"field": "p", "type": "quantitative", "scale": {"domain": [26, 72.5], "zero": false, "nice": false}}
          }
        },
        {
          "data": {"values": [{"v": "47.0443", "p": 47.0443}]},
          "mark": {"type": "text", "align": "left", "baseline": "middle", "fontSize": 11.5, "fontWeight": "bold", "color": "#ffffff"},
          "encoding": {
            "x": {"datum": {"year": 2019, "month": 4, "date": 4, "hours": 21, "utc": true}, "type": "temporal", "scale": {"type": "utc", "domain": [{"year": 2018, "month": 11, "date": 27, "hours": 23, "utc": true}, {"year": 2019, "month": 4, "date": 4, "hours": 1, "utc": true}]}},
            "y": {"field": "p", "type": "quantitative", "scale": {"domain": [26, 72.5], "zero": false, "nice": false}},
            "text": {"field": "v"}
          }
        },
        {
          "data": {"values": [{}]},
          "mark": {"type": "rule", "color": "#4f525b", "strokeWidth": 1},
          "encoding": {
            "x": {"datum": {"year": 2019, "month": 4, "date": 10, "hours": 9, "utc": true}, "type": "temporal", "scale": {"type": "utc", "domain": [{"year": 2018, "month": 11, "date": 27, "hours": 23, "utc": true}, {"year": 2019, "month": 4, "date": 4, "hours": 1, "utc": true}]}},
            "y": {"datum": 72.5, "type": "quantitative", "scale": {"domain": [26, 72.5], "zero": false, "nice": false}},
            "y2": {"datum": 13.12}
          }
        },
        {
          "data": {"values": [{}]},
          "mark": {"type": "rule", "color": "#4f525b", "strokeWidth": 1},
          "encoding": {
            "x": {"datum": {"year": 2019, "month": 4, "date": 4, "hours": 1, "utc": true}, "type": "temporal", "scale": {"type": "utc", "domain": [{"year": 2018, "month": 11, "date": 27, "hours": 23, "utc": true}, {"year": 2019, "month": 4, "date": 4, "hours": 1, "utc": true}]}},
            "y": {"datum": 26, "type": "quantitative", "scale": {"domain": [26, 72.5], "zero": false, "nice": false}},
            "y2": {"datum": 13.12}
          }
        },
        {
          "data": {"values": [{}]},
          "mark": {"type": "rule", "color": "#4f525b", "strokeWidth": 1},
          "encoding": {
            "x": {"datum": {"year": 2018, "month": 11, "date": 27, "hours": 23, "utc": true}, "type": "temporal", "scale": {"type": "utc", "domain": [{"year": 2018, "month": 11, "date": 27, "hours": 23, "utc": true}, {"year": 2019, "month": 4, "date": 4, "hours": 1, "utc": true}]}},
            "y": {"datum": 26, "type": "quantitative", "scale": {"domain": [26, 72.5], "zero": false, "nice": false}},
            "y2": {"datum": 13.12}
          }
        },
        {
          "data": {"values": [{}]},
          "mark": {"type": "rule", "color": "#4f525b", "strokeWidth": 1},
          "encoding": {
            "x": {"datum": {"year": 2018, "month": 11, "date": 27, "hours": 23, "utc": true}, "type": "temporal", "scale": {"type": "utc", "domain": [{"year": 2018, "month": 11, "date": 27, "hours": 23, "utc": true}, {"year": 2019, "month": 4, "date": 4, "hours": 1, "utc": true}]}},
            "x2": {"datum": {"year": 2019, "month": 4, "date": 10, "hours": 9, "utc": true}},
            "y": {"datum": 13.12, "type": "quantitative", "scale": {"domain": [26, 72.5], "zero": false, "nice": false}}
          }
        },
        {
          "data": {"values": [{}]},
          "mark": {"type": "rule", "color": "#4f525b", "strokeWidth": 1},
          "encoding": {
            "x": {"datum": {"year": 2019, "month": 4, "date": 4, "hours": 1, "utc": true}, "type": "temporal", "scale": {"type": "utc", "domain": [{"year": 2018, "month": 11, "date": 27, "hours": 23, "utc": true}, {"year": 2019, "month": 4, "date": 4, "hours": 1, "utc": true}]}},
            "x2": {"datum": {"year": 2019, "month": 4, "date": 10, "hours": 9, "utc": true}},
            "y": {"datum": 26, "type": "quantitative", "scale": {"domain": [26, 72.5], "zero": false, "nice": false}}
          }
        }
      ]
    }
  ],
  "config": {
    "font": "Liberation Sans",
    "view": {"stroke": "#4f525b", "strokeWidth": 1},
    "axis": {"labelFont": "Liberation Sans", "labelFontSize": 11, "labelColor": "#4c525e", "tickColor": "#4c525e", "gridColor": "#e0e3e8", "domain": false, "labelFlush": false, "labelOverlap": false, "titleFont": "Liberation Sans"}
  }
}
